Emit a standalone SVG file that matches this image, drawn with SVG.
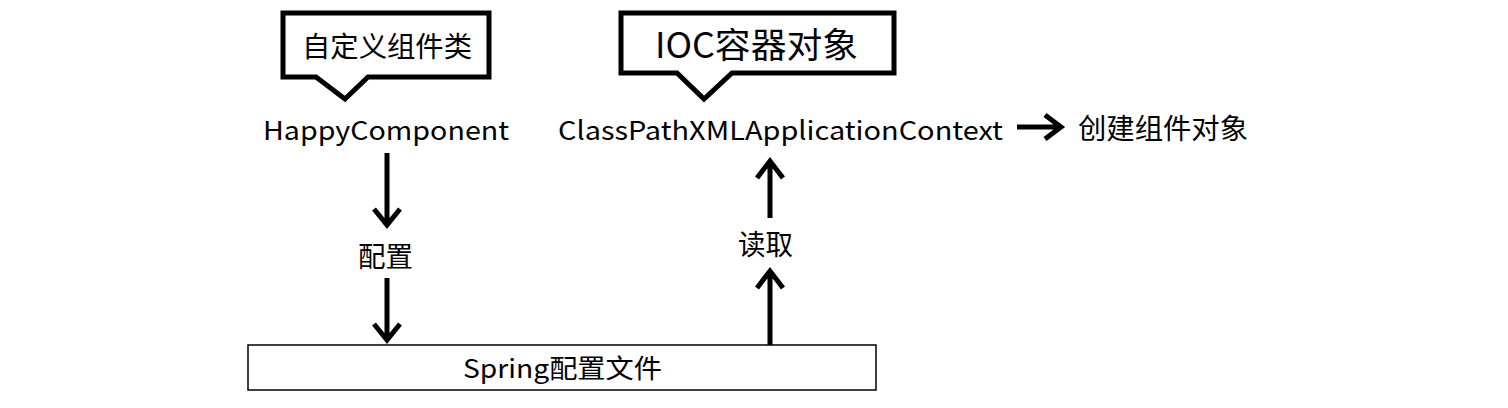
<svg xmlns="http://www.w3.org/2000/svg" width="1508" height="408" viewBox="0 0 1508 408">
<style>
text{font-family:"Noto Sans CJK SC","Noto Sans",sans-serif;fill:#000}
.t{font-size:26px}
.c{font-size:28px}
.callout{fill:#fff;stroke:#000;stroke-width:5;stroke-linejoin:miter}
.ln{stroke:#000;stroke-width:5;fill:none;stroke-linejoin:miter}
</style>
<rect width="1508" height="408" fill="#fff"/>
<g id="callout1">
<path class="callout" d="M283,13 H489 V77 H368 L345,99 L316,77 H283 Z"/>
<text class="c" x="302" y="57" textLength="170" lengthAdjust="spacingAndGlyphs">自定义组件类</text>
</g>
<g id="callout2">
<path class="callout" d="M621,13 H894 V73 H732 L704,99 L677,73 H621 Z"/>
<text x="655" y="58" style="font-size:35px" textLength="203" lengthAdjust="spacingAndGlyphs">IOC容器对象</text>
</g>
<g id="happy"><text class="t" x="263" y="140" textLength="246" lengthAdjust="spacingAndGlyphs">HappyComponent</text></g>
<g id="ctx"><text class="t" x="558" y="140" textLength="445" lengthAdjust="spacingAndGlyphs">ClassPathXMLApplicationContext</text></g>
<g id="create"><text class="c" x="1078" y="139" textLength="170" lengthAdjust="spacingAndGlyphs">创建组件对象</text></g>
<g id="config"><text class="c" x="358" y="267" textLength="55" lengthAdjust="spacingAndGlyphs">配置</text></g>
<g id="read"><text class="c" x="738" y="255" textLength="55" lengthAdjust="spacingAndGlyphs">读取</text></g>
<g id="spring">
<rect x="248" y="345" width="628" height="45" fill="#fff" stroke="#000" stroke-width="1.5"/>
<text class="t" x="463" y="378" textLength="199" lengthAdjust="spacingAndGlyphs">Spring配置文件</text>
</g>
<g id="connectors">
<path class="ln" d="M387,153 V225 M374,209 L387,225 L400,209"/>
<path class="ln" d="M387,278 V340 M374,324 L387,340 L400,324"/>
<path class="ln" d="M770,345 V271 M757,288 L770,271 L783,288"/>
<path class="ln" d="M770,218 V161 M757,178 L770,161 L783,178"/>
<path class="ln" d="M1017,127 H1060 M1045,115 L1061,127 L1045,139"/>
</g>
</svg>
